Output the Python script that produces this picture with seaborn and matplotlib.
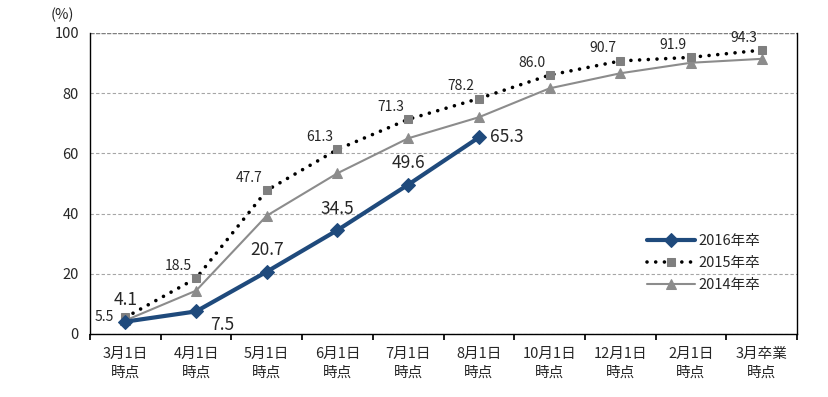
import numpy as np
import pandas as pd
import seaborn as sns
import matplotlib.pyplot as plt

# categories and series values
categories = ["3月1日\n時点", "4月1日\n時点", "5月1日\n時点", "6月1日\n時点", "7月1日\n時点",
              "8月1日\n時点", "10月1日\n時点", "12月1日\n時点", "2月1日\n時点", "3月卒業\n時点"]
val_2016 = [4.1, 7.5, 20.7, 34.5, 49.6, 65.3]
val_2015 = [5.5, 18.5, 47.7, 61.3, 71.3, 78.2, 86.0, 90.7, 91.9, 94.3]
val_2014 = [4.5, 14.4, 39.3, 53.4, 65.0, 72.0, 81.6, 86.6, 90.1, 91.4]
yticks = [0, 20, 40, 60, 80, 100]

sns.set_theme(style="white")
plt.rcParams['font.family'] = ['Noto Sans CJK JP', 'DejaVu Sans']

fig = plt.figure(figsize=(8.29, 3.97), dpi=100)
ax = fig.add_axes([0.1086, 0.1587, 0.8528, 0.7583])

x_all = np.arange(len(categories))

# 2014 gray line with triangles
sns.lineplot(x=x_all, y=val_2014, ax=ax, color="#8c8c8c", lw=1.5, marker="^",
             markersize=7, markeredgecolor="#8c8c8c", label="2014年卒", zorder=3)
# 2015 dotted black line with gray squares
sns.lineplot(x=x_all, y=val_2015, ax=ax, color="black", lw=2.6, marker="s",
             markersize=6, markerfacecolor="#7f7f7f", markeredgecolor="#7f7f7f",
             label="2015年卒", zorder=4)
ax.lines[-1].set_linestyle((0, (0.01, 2.4)))
ax.lines[-1].set_dash_capstyle("round")
# 2016 navy thick line with diamonds
sns.lineplot(x=x_all[:len(val_2016)], y=val_2016, ax=ax, color="#1f4a7c", lw=3,
             marker="D", markersize=7, markeredgecolor="#1f4a7c", label="2016年卒", zorder=5)

# data labels
for i, v in enumerate(val_2015):
    if i == 0:
        ax.annotate(f"{v:.1f}", (i, v), xytext=(-8, 0), textcoords="offset points",
                    ha="right", va="center", fontsize=10)
    else:
        ax.annotate(f"{v:.1f}", (i, v), xytext=(-3, 4), textcoords="offset points",
                    ha="right", va="bottom", fontsize=10)
for i, v in enumerate(val_2016):
    if i == 1:
        ax.annotate(f"{v:.1f}", (i, v), xytext=(10, -3), textcoords="offset points",
                    ha="left", va="top", fontsize=12.5)
    elif i == len(val_2016) - 1:
        ax.annotate(f"{v:.1f}", (i, v), xytext=(8, 0), textcoords="offset points",
                    ha="left", va="center", fontsize=12.5)
    else:
        ax.annotate(f"{v:.1f}", (i, v), xytext=(0, 9), textcoords="offset points",
                    ha="center", va="bottom", fontsize=12.5)

ax.set_xlim(-0.5, len(categories) - 0.5)
ax.set_ylim(0, 100)
ax.set_yticks(yticks)
ax.set_yticklabels([str(t) for t in yticks], fontsize=10.5)
ax.set_xticks(np.arange(-0.5, len(categories), 1.0))
ax.set_xticklabels([])
ax.set_xticks(x_all, minor=True)
ax.set_xticklabels(categories, minor=True, fontsize=10.5, linespacing=1.5)
ax.tick_params(axis="x", which="major", direction="out", length=4, color="black", bottom=True)
ax.tick_params(axis="x", which="minor", length=0, pad=9)
ax.tick_params(axis="y", length=0, pad=8)

ax.yaxis.grid(True, linestyle=(0, (3, 2)), color="#a6a6a6", lw=0.8)
ax.set_axisbelow(True)
for side in ["left", "right", "bottom"]:
    ax.spines[side].set_color("black")
    ax.spines[side].set_linewidth(1)
ax.spines["top"].set_visible(False)
ax.axhline(100, color="#7f7f7f", lw=1, linestyle=(0, (3, 1)), zorder=1)

fig.text(0.075, 0.962, "(%)", ha="center", va="center", fontsize=10.5)

handles, labels = ax.get_legend_handles_labels()
order = [2, 1, 0]
ax.legend([handles[i] for i in order], [labels[i] for i in order], loc="center left",
          bbox_to_anchor=(0.78, 0.235), frameon=False, fontsize=10.5, handlelength=3.3,
          labelspacing=0.55, handletextpad=0.2, borderaxespad=0)

ax.set_xlabel("")
ax.set_ylabel("")
plt.savefig("out.png", dpi=100)
